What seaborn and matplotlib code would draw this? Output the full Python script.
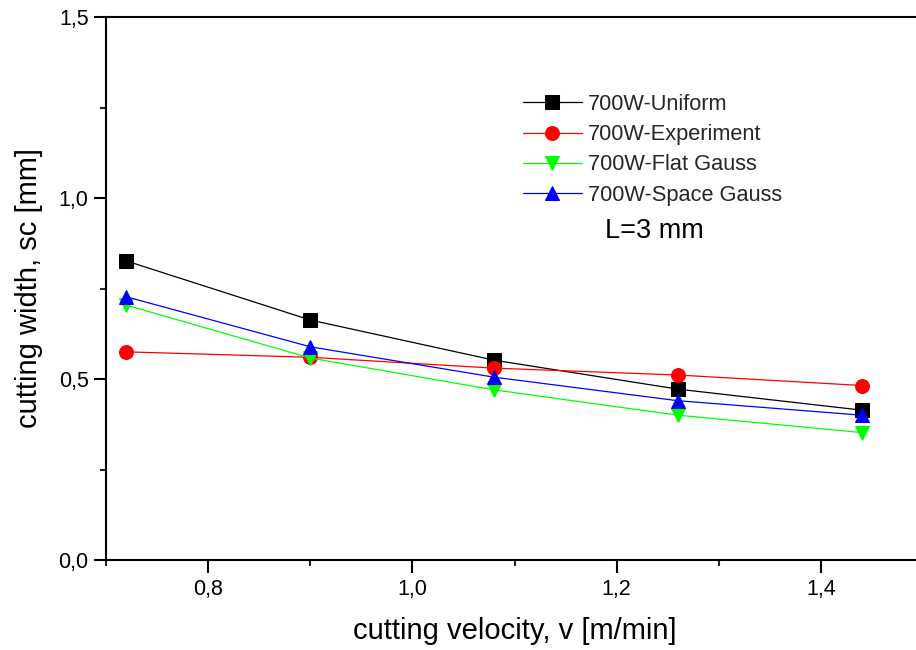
import matplotlib
matplotlib.use("Agg")
import matplotlib.pyplot as plt
import seaborn as sns
import pandas as pd
from matplotlib.ticker import FixedLocator, FixedFormatter, MultipleLocator

sns.set_theme(style="white")
plt.rcParams['font.family'] = ['Liberation Sans', 'DejaVu Sans']

velocity = [0.72, 0.90, 1.08, 1.26, 1.44]
uniform = [0.826, 0.663, 0.552, 0.472, 0.414]
experiment = [0.575, 0.560, 0.530, 0.511, 0.482]
flat_gauss = [0.704, 0.558, 0.470, 0.400, 0.352]
space_gauss = [0.727, 0.589, 0.505, 0.440, 0.400]

series_names = ["700W-Uniform", "700W-Experiment", "700W-Flat Gauss", "700W-Space Gauss"]
series_values = [uniform, experiment, flat_gauss, space_gauss]
colors = ["#000000", "#FF0000", "#00FF00", "#0000FF"]
markers = ["s", "o", "v", "^"]

x_ticks = [0.8, 1.0, 1.2, 1.4]
x_tick_labels = ["0,8", "1,0", "1,2", "1,4"]
y_ticks = [0.0, 0.5, 1.0, 1.5]
y_tick_labels = ["0,0", "0,5", "1,0", "1,5"]

fig = plt.figure(figsize=(9.16, 6.5), dpi=100)
ax = fig.add_axes([106/916, 90/650, 817/916, 543/650])

for name, vals, c, m in zip(series_names, series_values, colors, markers):
    df = pd.DataFrame({"v": velocity, "sc": vals})
    sns.lineplot(data=df, x="v", y="sc", ax=ax, color=c, marker=m,
                 markersize=10, markeredgecolor=c, linewidth=0.9,
                 label=name, sort=True)

ax.set_xlim(0.70, 1.50)
ax.set_ylim(0.0, 1.5)
ax.xaxis.set_major_locator(FixedLocator(x_ticks))
ax.xaxis.set_major_formatter(FixedFormatter(x_tick_labels))
ax.yaxis.set_major_locator(FixedLocator(y_ticks))
ax.yaxis.set_major_formatter(FixedFormatter(y_tick_labels))
ax.xaxis.set_minor_locator(MultipleLocator(0.1))
ax.yaxis.set_minor_locator(MultipleLocator(0.25))

ax.tick_params(axis="both", which="major", direction="out", length=9, width=1.5,
               labelsize=15.5, colors="black", bottom=True, left=True)
ax.tick_params(axis="both", which="minor", direction="out", length=4.5, width=1.5,
               bottom=True, left=True)
ax.tick_params(axis="x", which="major", pad=5)
ax.tick_params(axis="y", which="major", pad=3.5)

for s in ["left", "top", "bottom"]:
    ax.spines[s].set_visible(True)
    ax.spines[s].set_color("black")
    ax.spines[s].set_linewidth(1.5)
ax.spines["right"].set_visible(False)

ax.set_xlabel("cutting velocity, v [m/min]", fontsize=21, color="black")
ax.set_ylabel("cutting width, sc [mm]", fontsize=21, color="black")
ax.xaxis.set_label_coords(0.5, -0.105)
ax.yaxis.set_label_coords(-0.077, 0.5)

leg = ax.legend(loc="upper left", bbox_to_anchor=(0.510, 0.858), frameon=False,
                fontsize=15.7, handlelength=2.7, handletextpad=0.3,
                labelspacing=0.42, borderpad=0, borderaxespad=0, numpoints=1)

ax.text(0.611, 0.605, "L=3 mm", transform=ax.transAxes, fontsize=19.5,
        ha="left", va="center", color="black")

fig.savefig("out.png", dpi=100)
